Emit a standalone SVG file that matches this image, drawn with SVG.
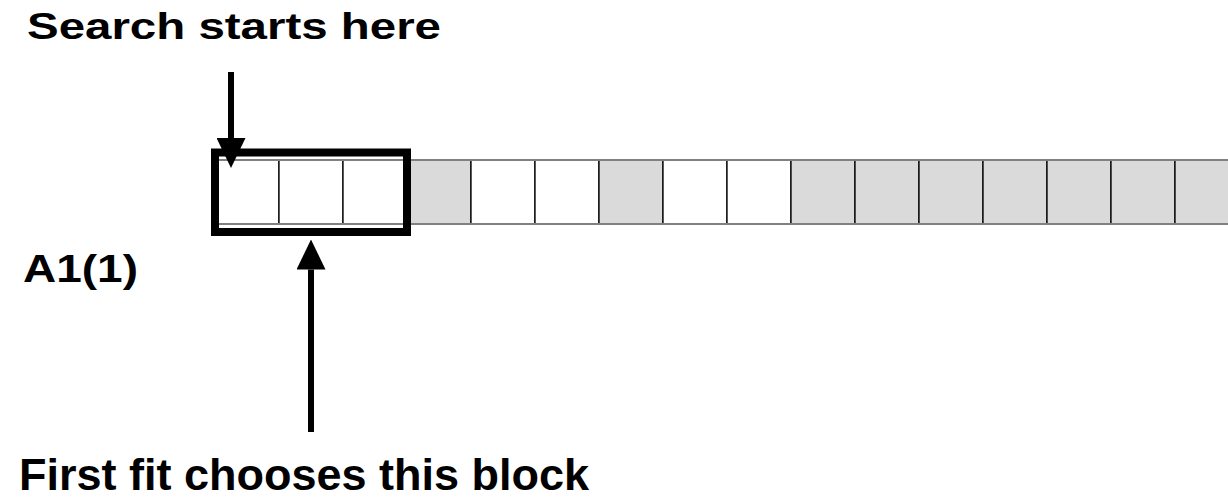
<svg xmlns="http://www.w3.org/2000/svg" width="1228" height="500" viewBox="0 0 1228 500">
<style>
.lbl{font-family:"Liberation Sans",Arial,sans-serif;font-weight:bold;fill:#000}
.free{fill:#fff;stroke:#000;stroke-width:1.3}
.used{fill:#dadada;stroke:#000;stroke-width:1.3}
.edge{stroke:#808080;stroke-width:2.2}
.arrow{stroke:#000;stroke-width:6;fill:none;marker-end:url(#head)}
</style>
<defs>
<marker id="head" viewBox="0 0 30 29" refX="0" refY="14.5" markerWidth="30" markerHeight="29" markerUnits="userSpaceOnUse" orient="auto">
<path d="M0,0 L30,14.5 L0,29 z" fill="#000"/>
</marker>
</defs>
<rect width="1228" height="500" fill="#fff"/>
<g id="memory">
<g id="cell1"><rect class="free" x="215" y="160" width="64" height="64"/></g>
<g id="cell2"><rect class="free" x="279" y="160" width="64" height="64"/></g>
<g id="cell3"><rect class="free" x="343" y="160" width="64" height="64"/></g>
<g id="cell4"><rect class="used" x="407" y="160" width="64" height="64"/></g>
<g id="cell5"><rect class="free" x="471" y="160" width="64" height="64"/></g>
<g id="cell6"><rect class="free" x="535" y="160" width="64" height="64"/></g>
<g id="cell7"><rect class="used" x="599" y="160" width="64" height="64"/></g>
<g id="cell8"><rect class="free" x="663" y="160" width="64" height="64"/></g>
<g id="cell9"><rect class="free" x="727" y="160" width="64" height="64"/></g>
<g id="cell10"><rect class="used" x="791" y="160" width="64" height="64"/></g>
<g id="cell11"><rect class="used" x="855" y="160" width="64" height="64"/></g>
<g id="cell12"><rect class="used" x="919" y="160" width="64" height="64"/></g>
<g id="cell13"><rect class="used" x="983" y="160" width="64" height="64"/></g>
<g id="cell14"><rect class="used" x="1047" y="160" width="64" height="64"/></g>
<g id="cell15"><rect class="used" x="1111" y="160" width="64" height="64"/></g>
<g id="cell16"><rect class="used" x="1175" y="160" width="64" height="64"/></g>
<line class="edge" x1="215" y1="160" x2="1240" y2="160"/>
<line class="edge" x1="215" y1="224" x2="1240" y2="224"/>
</g>
<g id="chosen-block"><rect x="215" y="152.5" width="192" height="79.5" fill="none" stroke="#000" stroke-width="8"/></g>
<g id="connectors">
<line class="arrow" x1="231" y1="72" x2="231" y2="138"/>
<line class="arrow" x1="311" y1="432" x2="311" y2="269.5"/>
</g>
<g id="label-search"><text class="lbl" x="27" y="39" font-size="37" textLength="414" lengthAdjust="spacingAndGlyphs">Search starts here</text></g>
<g id="label-a1"><text class="lbl" x="23" y="281.5" font-size="39" textLength="115" lengthAdjust="spacingAndGlyphs">A1(1)</text></g>
<g id="label-first"><text class="lbl" x="19" y="490" font-size="45">First fit chooses this block</text></g>
</svg>
